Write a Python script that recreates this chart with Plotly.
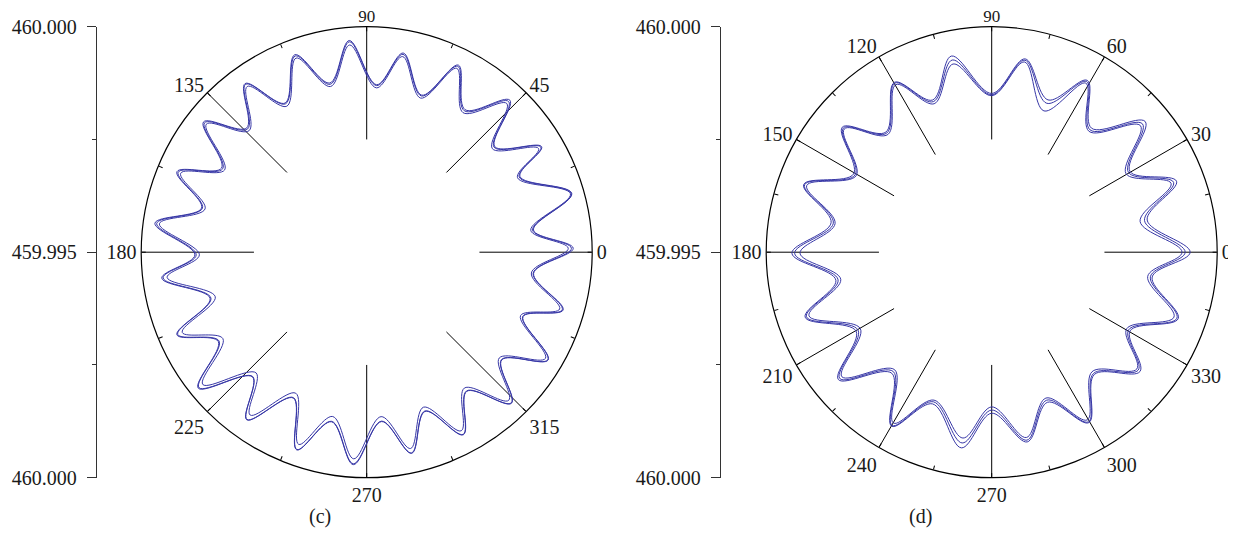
import plotly.graph_objects as go

# ---------------- data ----------------
# (c): radial profile, angle in degrees, radius in mm (three measurements)
c_theta = [1.1, 7.6, 16, 26.3, 31.1, 39.5, 46.7, 55.4, 63.9, 70.7, 79.6, 86.6,
           94.7, 102.3, 110, 118.7, 125.8, 134, 141.4, 149.9, 157, 165, 172.2, 180.9,
           187.2, 196.4, 203.5, 211, 218.9, 227.5, 234.4, 243.3, 250.5, 258.3, 266.4, 275,
           282.6, 290.1, 297.9, 305.7, 313.8, 321.4, 329.3, 337.6, 343.6, 352.8]
c_r1 = [459.99958, 459.99873, 459.99973, 459.99879, 459.99953, 459.99868, 459.99963, 459.99884,
        459.99962, 459.99869, 459.99949, 459.99872, 459.99971, 459.99884, 459.99966, 459.99877,
        459.99961, 459.99883, 459.99963, 459.99872, 459.99957, 459.99879, 459.99974, 459.99881,
        459.99958, 459.99862, 459.99959, 459.99884, 459.99980, 459.99875, 459.99957, 459.99862,
        459.99965, 459.99884, 459.99972, 459.99877, 459.99957, 459.99876, 459.99958, 459.99880,
        459.99964, 459.99883, 459.99968, 459.99875, 459.99954, 459.99873]
c_r2 = [459.99947, 459.99867, 459.99970, 459.99873, 459.99945, 459.99861, 459.99953, 459.99876,
        459.99954, 459.99862, 459.99941, 459.99865, 459.99961, 459.99876, 459.99958, 459.99869,
        459.99953, 459.99875, 459.99955, 459.99864, 459.99948, 459.99871, 459.99964, 459.99871,
        459.99946, 459.99850, 459.99946, 459.99872, 459.99967, 459.99863, 459.99944, 459.99850,
        459.99952, 459.99872, 459.99959, 459.99866, 459.99946, 459.99866, 459.99948, 459.99871,
        459.99955, 459.99876, 459.99961, 459.99869, 459.99946, 459.99868]
c_r3 = [459.99954, 459.99871, 459.99972, 459.99877, 459.99951, 459.99866, 459.99959, 459.99881,
        459.99959, 459.99867, 459.99946, 459.99870, 459.99968, 459.99881, 459.99963, 459.99875,
        459.99959, 459.99880, 459.99960, 459.99869, 459.99954, 459.99877, 459.99970, 459.99878,
        459.99955, 459.99860, 459.99957, 459.99882, 459.99978, 459.99874, 459.99956, 459.99861,
        459.99964, 459.99883, 459.99970, 459.99876, 459.99956, 459.99875, 459.99957, 459.99879,
        459.99963, 459.99882, 459.99967, 459.99874, 459.99952, 459.99872]

# (d)
d_theta = [0, 11.7, 21, 30.3, 40.4, 51.2, 60.9, 69.7, 80.2, 90, 101.6, 111.2,
           119.8, 131.4, 140.1, 150.5, 160.2, 169.6, 180.3, 190.2, 199.2, 210.2, 219.7, 230.5,
           240.1, 248.7, 261.2, 270, 280.6, 290.4, 299.7, 310, 321.2, 330.4, 340.4, 351.2]
d_r1 = [459.99940, 459.99852, 459.99939, 459.99855, 459.99947, 459.99853, 459.99936, 459.99860,
        459.99935, 459.99852, 459.99944, 459.99862, 459.99934, 459.99855, 459.99932, 459.99852,
        459.99943, 459.99862, 459.99943, 459.99851, 459.99938, 459.99848, 459.99942, 459.99848,
        459.99945, 459.99861, 459.99939, 459.99857, 459.99928, 459.99855, 459.99935, 459.99854,
        459.99922, 459.99853, 459.99939, 459.99860]
d_r2 = [459.99922, 459.99836, 459.99926, 459.99845, 459.99933, 459.99844, 459.99929, 459.99834,
        459.99928, 459.99847, 459.99926, 459.99853, 459.99928, 459.99848, 459.99926, 459.99845,
        459.99936, 459.99853, 459.99925, 459.99840, 459.99929, 459.99837, 459.99932, 459.99838,
        459.99937, 459.99852, 459.99917, 459.99843, 459.99918, 459.99845, 459.99928, 459.99846,
        459.99913, 459.99844, 459.99929, 459.99850]
d_r3 = [459.99929, 459.99846, 459.99932, 459.99851, 459.99939, 459.99848, 459.99933, 459.99852,
        459.99932, 459.99849, 459.99935, 459.99858, 459.99932, 459.99852, 459.99929, 459.99848,
        459.99941, 459.99857, 459.99937, 459.99846, 459.99935, 459.99843, 459.99938, 459.99843,
        459.99943, 459.99856, 459.99928, 459.99850, 459.99924, 459.99850, 459.99933, 459.99851,
        459.99917, 459.99849, 459.99936, 459.99856]

# angular axes
c_spokes = [0, 45, 90, 135, 180, 225, 270, 315]
c_ticks = [0, 22.5, 45, 67.5, 90, 112.5, 135, 157.5, 180, 202.5, 225, 247.5, 270, 292.5, 315, 337.5]
c_ticktext = ["0", "", "45", "", "90", "", "135", "", "180", "", "225", "", "270", "", "315", ""]
d_spokes = [0, 30, 60, 90, 120, 150, 180, 210, 240, 270, 300, 330]
d_ticks = [0, 15, 30, 45, 60, 75, 90, 105, 120, 135, 150, 165, 180, 195, 210, 225,
           240, 255, 270, 285, 300, 315, 330, 345]
d_ticktext = ["0", "", "30", "", "60", "", "90", "", "120", "", "150", "", "180", "",
              "210", "", "240", "", "270", "", "300", "", "330", ""]
top_label_angle = 90

r_center = 459.995   # radius at the centre of the plot
r_spoke = 459.9975   # radius where spokes start
r_outer = 460.000    # outer circle

# left radial scale
axis_vals = [-0.005, 0.0, 0.005]
axis_text = ["460.000", "459.995", "460.000"]
captions = ["(c)", "(d)"]

# ---------------- figure ----------------
OFF = 8                      # page body margin
W, H = 1236 - OFF, 532
FONT = "Liberation Serif"
FS = 20
FS_TOP = 17                  # top label kept inside the page
BLUE = "#3737a6"
TXT = "#1a1a1a"

fig = go.Figure()

def add_panel(polar, theta, curves, spokes, ticks, ticktext):
    th, rr = [], []
    for a in spokes:
        th += [a, a, None]
        rr += [r_spoke, r_outer, None]
    fig.add_trace(go.Scatterpolar(theta=th, r=rr, mode="lines", subplot=polar,
                                  line=dict(color="black", width=1),
                                  hoverinfo="skip", showlegend=False))
    for r in curves:
        fig.add_trace(go.Scatterpolar(theta=theta + theta[:1], r=r + r[:1], mode="lines",
                                      subplot=polar,
                                      line=dict(color=BLUE, width=1, shape="spline", smoothing=1),
                                      showlegend=False))
    # top label drawn as text so it sits close to the circle
    lab = ticktext[ticks.index(top_label_angle)]
    fig.add_trace(go.Scatterpolar(theta=[top_label_angle], r=[r_outer], mode="text",
                                  text=[lab], textposition="top center", cliponaxis=False,
                                  subplot=polar, hoverinfo="skip", showlegend=False,
                                  textfont=dict(family=FONT, size=FS_TOP, color=TXT)))

add_panel("polar", c_theta, [c_r1, c_r2, c_r3], c_spokes, c_ticks, c_ticktext)
add_panel("polar2", d_theta, [d_r1, d_r2, d_r3], d_spokes, d_ticks, d_ticktext)

# invisible traces so the left scales are drawn
fig.add_trace(go.Scatter(x=[0, 0, 0], y=axis_vals, xaxis="x", yaxis="y", mode="markers",
                         marker=dict(opacity=0), hoverinfo="skip", showlegend=False))
fig.add_trace(go.Scatter(x=[0, 0, 0], y=axis_vals, xaxis="x2", yaxis="y2", mode="markers",
                         marker=dict(opacity=0), hoverinfo="skip", showlegend=False))

R = 225.5
top = 26.7 - OFF
ydom = [(H - top - 2 * R) / H, (H - top) / H]

def polar_layout(cx, ticks, ticktext):
    cx -= OFF
    native_text = ["" if t == top_label_angle else s for t, s in zip(ticks, ticktext)]
    return dict(
        domain=dict(x=[(cx - R) / W, (cx + R) / W], y=ydom),
        hole=0,
        bgcolor="white",
        radialaxis=dict(range=[r_center, r_outer], visible=False, showgrid=False),
        angularaxis=dict(rotation=0, direction="counterclockwise",
                         tickmode="array", tickvals=ticks, ticktext=native_text,
                         ticks="inside", ticklen=4, tickwidth=1, tickcolor="black",
                         showline=True, linecolor="black", linewidth=1.2,
                         showgrid=False,
                         tickfont=dict(family=FONT, size=FS, color=TXT)),
    )

def yaxis_layout(xpos):
    return dict(domain=ydom, range=[-0.005, 0.005], anchor="free", position=(xpos - OFF) / W,
                automargin=False,
                tickmode="array", tickvals=axis_vals, ticktext=axis_text,
                ticks="outside", ticklen=9, tickwidth=1.2, tickcolor="#333",
                showline=True, linecolor="#333", linewidth=1.3,
                showgrid=False, zeroline=False, ticklabelstandoff=6,
                minor=dict(dtick=0.0025, tick0=0, ticks="outside", ticklen=4,
                           tickwidth=1.2, tickcolor="#333", showgrid=False),
                tickfont=dict(family=FONT, size=FS, color=TXT))

cap_y = (H - (530 - OFF)) / H
fig.update_layout(
    width=W, height=H,
    margin=dict(l=0, r=0, t=0, b=0, autoexpand=False),
    paper_bgcolor="white", plot_bgcolor="rgba(0,0,0,0)",
    polar=polar_layout(366.7, c_ticks, c_ticktext),
    polar2=polar_layout(991.7, d_ticks, d_ticktext),
    xaxis=dict(domain=[0.0, 0.01], visible=False, anchor="y", automargin=False),
    xaxis2=dict(domain=[0.5, 0.51], visible=False, anchor="y2", automargin=False),
    yaxis=yaxis_layout(96),
    yaxis2=yaxis_layout(720),
    annotations=[
        dict(text=captions[0], x=(307 - OFF) / W, y=cap_y, xref="paper", yref="paper",
             showarrow=False, font=dict(family=FONT, size=FS, color=TXT)),
        dict(text=captions[1], x=(934 - OFF) / W, y=cap_y, xref="paper", yref="paper",
             showarrow=False, font=dict(family=FONT, size=FS, color=TXT)),
    ],
)

fig.write_html("out.html")
